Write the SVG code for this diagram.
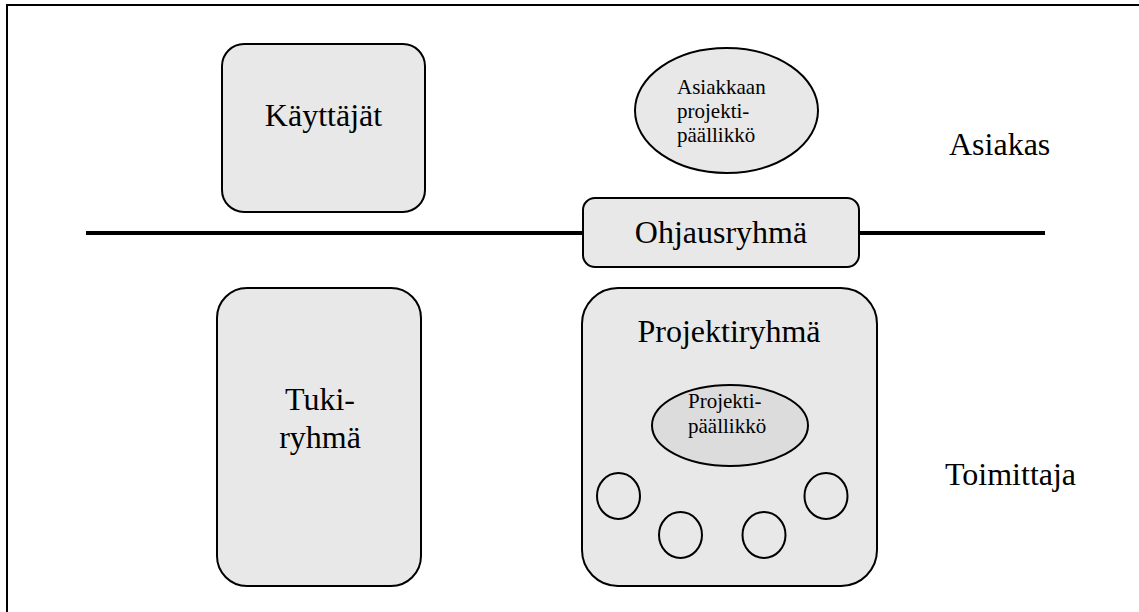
<svg xmlns="http://www.w3.org/2000/svg" width="1139" height="612" viewBox="0 0 1139 612">
<style>
.box{fill:#e8e8e8;stroke:#000;stroke-width:2}
.big{font-family:"Liberation Serif",serif;font-size:32px;fill:#000}
.small{font-family:"Liberation Serif",serif;font-size:21px;fill:#000}
.ring{fill:none;stroke:#000;stroke-width:2}
</style>
<rect width="1139" height="612" fill="#fff"/>
<g id="frame" fill="none" stroke="#000" stroke-width="2">
<line x1="7" y1="5" x2="1139" y2="5"/>
<line x1="7" y1="4" x2="7" y2="612"/>
</g>
<g id="connectors">
<line x1="86" y1="233" x2="1045" y2="233" stroke="#000" stroke-width="4"/>
</g>
<g id="kayttajat">
<rect class="box" x="222" y="44" width="203" height="168" rx="22"/>
<text class="big" x="323.5" y="126" text-anchor="middle">Käyttäjät</text>
</g>
<g id="asiakkaan-pp">
<ellipse class="box" cx="726.5" cy="110.5" rx="91.5" ry="62.5"/>
<text class="small" x="677" y="94">Asiakkaan</text>
<text class="small" x="677" y="118">projekti-</text>
<text class="small" x="677" y="142">päällikkö</text>
</g>
<g id="asiakas">
<text class="big" x="949" y="155">Asiakas</text>
</g>
<g id="ohjausryhma">
<rect class="box" x="583" y="198" width="276" height="69" rx="12"/>
<text class="big" x="721" y="243" text-anchor="middle">Ohjausryhmä</text>
</g>
<g id="tukiryhma">
<rect class="box" x="217" y="288" width="204" height="298" rx="30"/>
<text class="big" x="320" y="410" text-anchor="middle">Tuki-</text>
<text class="big" x="320" y="448" text-anchor="middle">ryhmä</text>
</g>
<g id="projektiryhma">
<rect class="box" x="582" y="288" width="295" height="298" rx="36"/>
<text class="big" x="729" y="342" text-anchor="middle">Projektiryhmä</text>
</g>
<g id="projektipaallikko">
<ellipse cx="730" cy="425.5" rx="78" ry="40.5" fill="#dcdcdc" stroke="#000" stroke-width="2"/>
<text class="small" x="688" y="408">Projekti-</text>
<text class="small" x="688" y="433">päällikkö</text>
</g>
<g id="member1"><ellipse class="ring" cx="618.5" cy="496" rx="21.5" ry="23"/></g>
<g id="member2"><ellipse class="ring" cx="680.5" cy="535" rx="21.5" ry="23"/></g>
<g id="member3"><ellipse class="ring" cx="764" cy="535" rx="21.5" ry="23"/></g>
<g id="member4"><ellipse class="ring" cx="826" cy="496" rx="21.5" ry="23"/></g>
<g id="toimittaja">
<text class="big" x="945" y="485">Toimittaja</text>
</g>
</svg>
